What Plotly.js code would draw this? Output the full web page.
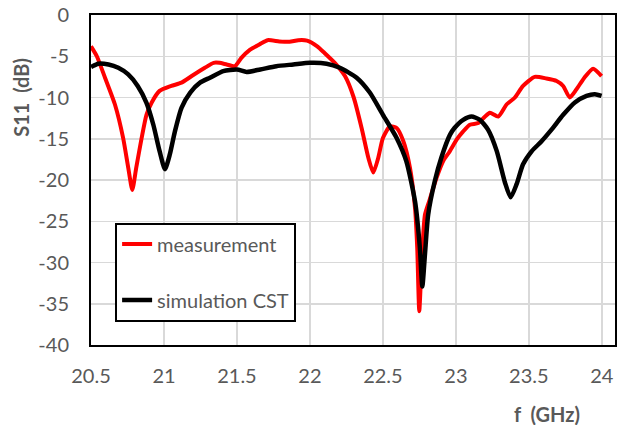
<!DOCTYPE html>
<html>
<head>
<meta charset="utf-8">
<script src="https://cdn.plot.ly/plotly-3.0.1.min.js"></script>
<style>
html,body{margin:0;padding:0;background:#fff;}
#chart{width:618px;height:425px;}
</style>
</head>
<body>
<div id="chart"></div>
<script>
// Measurement (red)
const measFreq = [20.5, 20.54, 20.596, 20.664, 20.72, 20.755, 20.783, 20.81, 20.847, 20.88, 20.916, 20.97, 21.05, 21.12, 21.19, 21.28, 21.34, 21.38, 21.43, 21.486, 21.53, 21.59, 21.66, 21.71, 21.79, 21.86, 21.92, 21.98, 22.05, 22.1, 22.17, 22.24, 22.3, 22.354, 22.4, 22.434, 22.468, 22.5, 22.548, 22.594, 22.64, 22.685, 22.72, 22.735, 22.749, 22.765, 22.788, 22.82, 22.868, 22.913, 22.955, 23.005, 23.05, 23.096, 23.153, 23.2, 23.233, 23.29, 23.347, 23.404, 23.46, 23.54, 23.62, 23.69, 23.735, 23.78, 23.826, 23.88, 23.94, 23.998];
const measS11 = [-3.8, -5.0, -7.6, -10.85, -14.9, -18.5, -21.2, -18.5, -14.9, -12.1, -10.6, -9.2, -8.6, -8.2, -7.4, -6.4, -5.8, -5.8, -6.0, -6.2, -5.2, -4.2, -3.5, -3.05, -3.2, -3.25, -3.05, -3.1, -3.8, -4.6, -5.8, -7.4, -10.0, -13.7, -17.3, -19.1, -17.3, -14.9, -13.5, -13.7, -15.3, -18.5, -23.4, -28.2, -35.9, -30.2, -24.2, -22.4, -19.7, -17.7, -16.6, -15.1, -14.1, -13.3, -13.1, -12.3, -11.85, -12.3, -10.85, -10.0, -8.6, -7.5, -7.7, -8.0, -8.6, -10.0, -9.0, -7.6, -6.5, -7.4];

// Simulation CST (black)
const simFreq = [20.5, 20.55, 20.62, 20.687, 20.755, 20.82, 20.88, 20.927, 20.97, 21.007, 21.04, 21.075, 21.12, 21.18, 21.247, 21.315, 21.406, 21.5, 21.566, 21.66, 21.77, 21.886, 22.0, 22.114, 22.205, 22.32, 22.41, 22.5, 22.594, 22.66, 22.72, 22.753, 22.77, 22.788, 22.81, 22.856, 22.9, 22.96, 22.99, 23.05, 23.107, 23.164, 23.22, 23.28, 23.336, 23.375, 23.416, 23.46, 23.52, 23.587, 23.655, 23.735, 23.815, 23.895, 23.952, 23.998];
const simS11 = [-6.3, -5.9, -6.0, -6.4, -7.2, -8.6, -10.65, -13.3, -16.5, -18.7, -16.9, -14.1, -11.25, -9.4, -8.2, -7.6, -6.8, -6.6, -6.9, -6.6, -6.2, -6.0, -5.8, -5.9, -6.4, -7.6, -9.4, -12.1, -14.9, -17.7, -22.6, -28.2, -32.9, -29.0, -24.2, -20.1, -17.3, -14.5, -13.7, -12.7, -12.3, -12.7, -13.9, -16.5, -20.3, -22.1, -20.5, -18.1, -16.5, -15.3, -13.9, -12.1, -10.6, -9.8, -9.6, -9.8];

const xTicks = [20.5, 21, 21.5, 22, 22.5, 23, 23.5, 24];
const xTickText = ['20.5', '21', '21.5', '22', '22.5', '23', '23.5', '24'];
const yTicks = [0, -5, -10, -15, -20, -25, -30, -35, -40];
const yTickText = ['0', '-5', '-10', '-15', '-20', '-25', '-30', '-35', '-40'];

const FONT = 'Lato, "Open Sans", "Liberation Sans", sans-serif';
const GRAY = '#595959';

const traces = [
  {x: measFreq, y: measS11, type: 'scatter', mode: 'lines', name: 'measurement',
   legendgroup: 'a', line: {color: '#ff0000', width: 4, shape: 'spline', smoothing: 0.6}},
  {x: simFreq, y: simS11, type: 'scatter', mode: 'lines', name: 'simulation CST',
   legendgroup: 'b', line: {color: '#000000', width: 4.5, shape: 'spline', smoothing: 0.6}}
];

const layout = {
  width: 618, height: 425,
  margin: {l: 91, r: 3, t: 15, b: 80},
  paper_bgcolor: '#ffffff', plot_bgcolor: '#ffffff',
  font: {family: FONT, color: GRAY, size: 20},
  showlegend: true,
  legend: {
    x: 0.046, y: 0.371, xanchor: 'left', yanchor: 'top',
    bordercolor: '#000000', borderwidth: 2, bgcolor: '#ffffff',
    font: {family: FONT, size: 20, color: GRAY},
    traceorder: 'grouped', tracegroupgap: 27
  },
  xaxis: {
    range: [20.5, 24.09], tickvals: xTicks, ticktext: xTickText,
    showgrid: true, gridcolor: '#d9d9d9', gridwidth: 1.5,
    showline: true, linecolor: '#000000', linewidth: 2, mirror: true,
    zeroline: false, ticks: '', ticklabelstandoff: 12,
    tickfont: {family: FONT, size: 20, color: GRAY}
  },
  yaxis: {
    range: [-40, 0], tickvals: yTicks, ticktext: yTickText,
    showgrid: true, gridcolor: '#d9d9d9', gridwidth: 1.5,
    showline: true, linecolor: '#000000', linewidth: 2, mirror: true,
    zeroline: false, ticks: '', ticklabelstandoff: 16,
    tickfont: {family: FONT, size: 20, color: GRAY}
  },
  annotations: [
    {text: '<b>S11  (dB)</b>', xref: 'paper', yref: 'paper', x: -0.135, y: 0.75,
     xanchor: 'center', yanchor: 'middle', textangle: -90, showarrow: false,
     font: {family: FONT, size: 20, color: GRAY}},
    {text: '<b>f  (GHz)</b>', xref: 'paper', yref: 'paper', x: 0.87, y: -0.21,
     xanchor: 'center', yanchor: 'middle', showarrow: false,
     font: {family: FONT, size: 20, color: GRAY}}
  ]
};

Plotly.newPlot('chart', traces, layout, {displayModeBar: false, staticPlot: true});
</script>
</body>
</html>
